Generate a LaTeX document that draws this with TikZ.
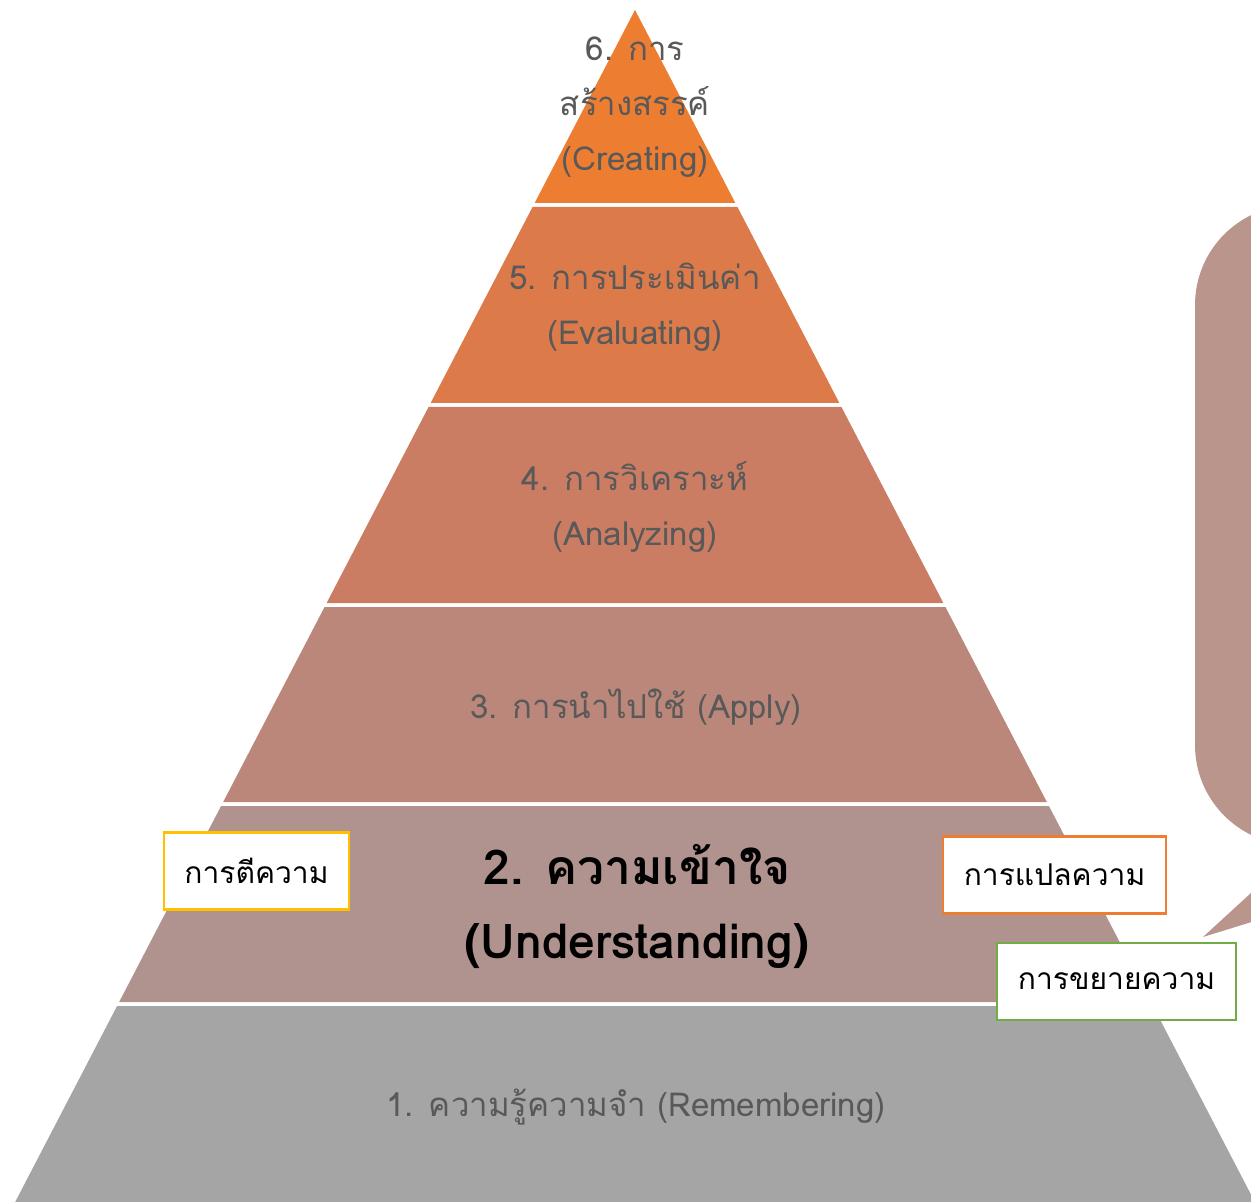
\documentclass[tikz,border=0pt]{standalone}
\usepackage{fontspec}
\setmainfont[Script=Thai]{Loma}
\usetikzlibrary{backgrounds}

\definecolor{lvlsix}{HTML}{ED7D31}
\definecolor{lvlfive}{HTML}{DC7A4A}
\definecolor{lvlfour}{HTML}{CB7D64}
\definecolor{lvlthree}{HTML}{BB877A}
\definecolor{lvltwo}{HTML}{B0928F}
\definecolor{lvlone}{HTML}{A5A5A5}
\definecolor{calloutfill}{HTML}{B9958C}
\definecolor{textgray}{HTML}{595959}
\definecolor{boxyellow}{HTML}{FFC000}
\definecolor{boxorange}{HTML}{ED7D31}
\definecolor{boxgreen}{HTML}{70AD47}

\begin{document}
\begin{tikzpicture}[x=0.5pt,y=-0.5pt,
  lvltext/.style={text=textgray,font=\fontsize{16.5}{27.5}\selectfont,align=center,inner sep=0},
  keytext/.style={text=black,font=\bfseries\fontsize{24}{37}\selectfont,align=center,inner sep=0},
  keybox/.style={draw,line width=1.2pt,fill=white,minimum height=38.5pt,inner xsep=8pt,font=\fontsize{15}{18}\selectfont}]
\useasboundingbox (0,0) rectangle (1251,1202);
\clip (0,0) rectangle (1251,1202);

% Callout
\fill[calloutfill,rounded corners=50pt] (1195,205) rectangle (1700,845);
\fill[calloutfill] (1203,937) -- (1300,848) -- (1300,907) -- cycle;

% Levels
\foreach \top/\bot/\col in {10/203/lvlsix,207/403/lvlfive,407/603/lvlfour,607/802/lvlthree,806/1002/lvltwo,1006/1202/lvlone}
  \fill[\col] ({635-0.52*(\top-10)},\top) -- ({635+0.52*(\top-10)},\top) -- ({635+0.52*(\bot-10)},\bot) -- ({635-0.52*(\bot-10)},\bot) -- cycle;

% Nodes
\node[lvltext] (t6) at (635,107) {6. การ\\สร้างสรรค์\\(Creating)};
\node[lvltext] (t5) at (635,307) {5. การประเมินค่า\\(Evaluating)};
\node[lvltext] (t4) at (635,507) {4. การวิเคราะห์\\(Analyzing)};
\node[lvltext] (t3) at (636,707) {3. การนำไปใช้ (Apply)};
\node[keytext] (t2) at (637,906) {2. ความเข้าใจ\\(Understanding)};
\node[lvltext] (t1) at (636,1107) {1. ความรู้ความจำ (Remembering)};

\node[keybox,draw=boxyellow,minimum width=92.5pt] (interp) at (256.5,871) {การตีความ};
\node[keybox,draw=boxorange,minimum width=111.5pt] (transl) at (1054.5,875) {การแปลความ};
\node[keybox,draw=boxgreen,minimum width=119.5pt] (extrap) at (1116.5,981.5) {การขยายความ};
\end{tikzpicture}
\end{document}
